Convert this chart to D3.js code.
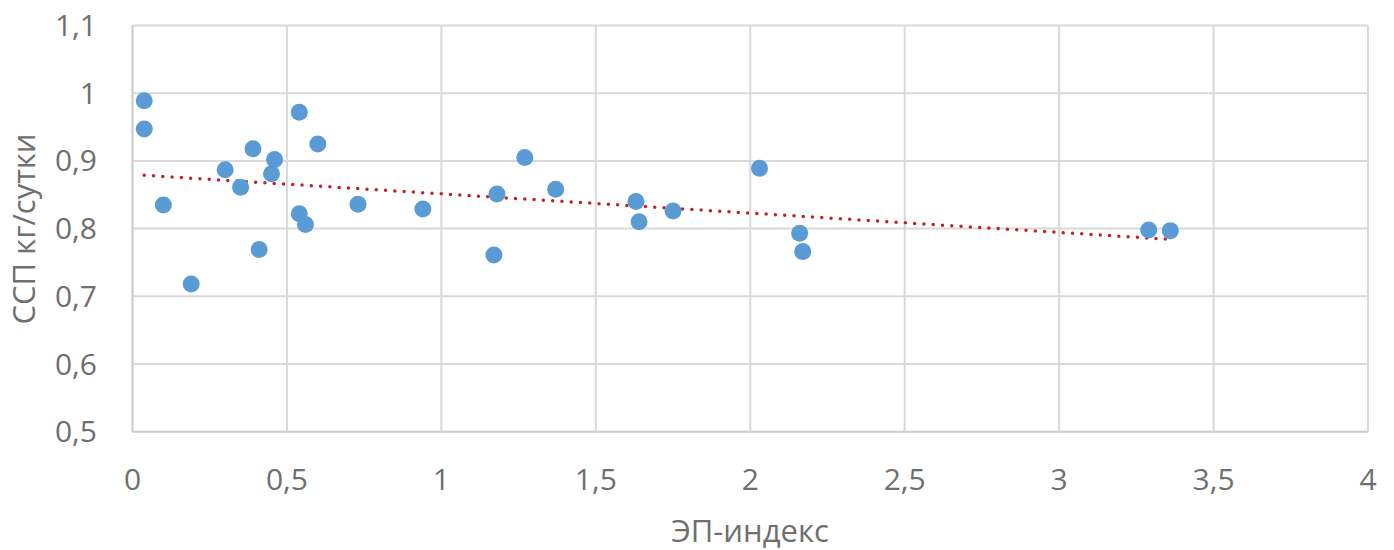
<!DOCTYPE html>
<html><head><meta charset="utf-8">
<script src="https://cdn.jsdelivr.net/npm/d3@7"></script>
<style>body{margin:0;background:#fff}svg{display:block}text{font-family:"Open Sans","Noto Sans",sans-serif;fill:#6f6f6f}</style>
</head><body><svg id="c" width="1394" height="550"></svg>
<script>
const xValues = [0.038,0.038,0.10,0.19,0.30,0.35,0.39,0.41,0.45,0.46,0.54,0.54,0.56,0.60,0.73,0.94,1.17,1.18,1.27,1.37,1.63,1.64,1.75,2.03,2.16,2.17,3.29,3.36];
const yValues = [0.989,0.947,0.835,0.718,0.887,0.861,0.918,0.769,0.881,0.902,0.972,0.822,0.806,0.925,0.836,0.829,0.761,0.851,0.905,0.858,0.840,0.810,0.826,0.889,0.793,0.766,0.798,0.797];
const xTicks = [0,0.5,1,1.5,2,2.5,3,3.5,4];
const yTicks = [0.5,0.6,0.7,0.8,0.9,1.0,1.1];
const xTitle = "ЭП-индекс";
const yTitle = "ССП кг/сутки";

const svg = d3.select("#c");
const L=132.5,R=1368,T=25.5,B=431.7;
const x = d3.scaleLinear().domain([0,4]).range([L,R]);
const y = d3.scaleLinear().domain([0.5,1.1]).range([B,T]);
const fmt = v => String(v).replace(".",",");

const g = svg.append("g");
g.selectAll(".gx").data(xTicks).join("line").attr("x1",d=>x(d)).attr("x2",d=>x(d)).attr("y1",T).attr("y2",B).attr("stroke","#d9d9d9").attr("stroke-width",2);
g.selectAll(".gy").data(yTicks).join("line").attr("y1",d=>y(d)).attr("y2",d=>y(d)).attr("x1",L).attr("x2",R).attr("stroke","#d9d9d9").attr("stroke-width",2);
g.append("line").attr("x1",L).attr("x2",R).attr("y1",B).attr("y2",B).attr("stroke","#d0d0d0").attr("stroke-width",2);
g.append("line").attr("x1",L).attr("x2",L).attr("y1",T).attr("y2",B).attr("stroke","#d0d0d0").attr("stroke-width",2);

svg.selectAll(".xt").data(xTicks).join("text").attr("x",d=>x(d)).attr("y",490).attr("text-anchor","middle").attr("font-size",30).text(fmt);
svg.selectAll(".yt").data(yTicks).join("text").attr("x",97).attr("y",d=>y(d)+10.5).attr("text-anchor","end").attr("font-size",30).text(d=>fmt(d));

svg.append("text").attr("x",750).attr("y",542).attr("text-anchor","middle").attr("font-size",31).text(xTitle);
svg.append("text").attr("transform","translate(35,229) rotate(-90)").attr("text-anchor","middle").attr("font-size",31).text(yTitle);

// linear trend (least squares)
const n=xValues.length, mx=d3.mean(xValues), my=d3.mean(yValues);
let sxy=0,sxx=0; for(let i=0;i<n;i++){sxy+=(xValues[i]-mx)*(yValues[i]-my);sxx+=(xValues[i]-mx)**2;}
const b=sxy/sxx,a=my-b*mx;
const x0=d3.min(xValues), x1=d3.max(xValues);
svg.append("line").attr("x1",x(x0)).attr("y1",y(a+b*x0)).attr("x2",x(x1)).attr("y2",y(a+b*x1))
 .attr("stroke","#c0202a").attr("stroke-width",3.5).attr("stroke-linecap","round").attr("stroke-dasharray","0 9.3");

svg.selectAll(".pt").data(xValues.map((v,i)=>[v,yValues[i]])).join("circle")
 .attr("cx",d=>x(d[0])).attr("cy",d=>y(d[1])).attr("r",8.5).attr("fill","#5b9bd5");
</script></body></html>
